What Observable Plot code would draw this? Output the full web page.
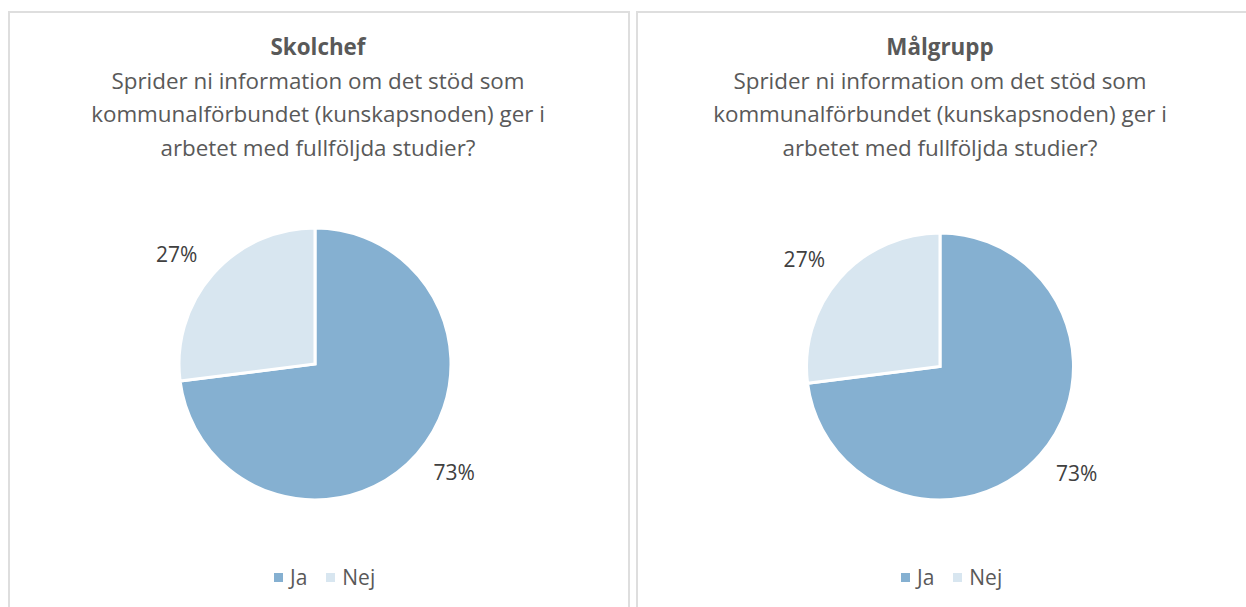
<!DOCTYPE html>
<html><head><meta charset="utf-8">
<script src="https://cdn.jsdelivr.net/npm/d3@7"></script>
<script src="https://cdn.jsdelivr.net/npm/@observablehq/plot@0.6"></script>
<style>
html,body{margin:0;padding:0;background:#fff;overflow:hidden;width:1246px;height:607px}
body{font-family:"Open Sans",Lato,sans-serif;position:relative}
.panel{position:absolute;top:11px;height:640px;border:2px solid #dedede;box-sizing:border-box}
.title{position:absolute;width:640px;text-align:center;color:#595959;font-size:22.4px;line-height:33.7px;top:30px}
.title b{font-weight:700}
.chart{position:absolute;top:180px}
.legend{position:absolute;top:564px;display:flex;align-items:center;color:#595959;font-size:21px;line-height:26px}
.legend .sw{display:inline-block;width:9px;height:9px;margin-right:7px}
.legend .item{display:flex;align-items:center;margin-right:19px}
</style>
</head><body>
<div id="root"></div>
<script>
const categories = ["Ja", "Nej"];
const colors = ["#85b0d1", "#d8e6f0"];
const panelNames = ["Skolchef", "Målgrupp"];
const questionLines = ["Sprider ni information om det stöd som", "kommunalförbundet (kunskapsnoden) ger i", "arbetet med fullföljda studier?"];
const skolchefValues = [73, 27];
const malgruppValues = [73, 27];
const labels = ["73%", "27%"];

// layout (page pixels)
const layout = [
  {panelLeft: 8, panelWidth: 622, cx: 315, cy: 364, r: 136, legendLeft: 274, titleCenter: 318},
  {panelLeft: 636, panelWidth: 640, cx: 939.5, cy: 366.5, r: 133.5, legendLeft: 901, titleCenter: 940}
];
const valuesByPanel = [skolchefValues, malgruppValues];
const root = document.getElementById("root");
const chartW = 600, chartH = 380, chartTop = 180;

function pieMark(data) {
  return (index, scales) => {
    const cx = scales.x(0), cy = scales.y(0), r = scales.x(1) - scales.x(0);
    const color = scales.color ?? (c => colors[categories.indexOf(c)]);
    const arcs = d3.pie().sort(null).value(d => d.value)(data);
    const arc = d3.arc().innerRadius(0).outerRadius(r);
    const g = d3.create("svg:g");
    g.selectAll("path").data(arcs).join("path")
      .attr("transform", `translate(${cx},${cy})`)
      .attr("d", arc)
      .attr("fill", d => color(d.data.category))
      .attr("stroke", "#fff").attr("stroke-width", 3).attr("stroke-linejoin", "miter");
    return g.node();
  };
}

layout.forEach((L, i) => {
  const panel = document.createElement("div");
  panel.className = "panel";
  panel.style.left = L.panelLeft + "px";
  panel.style.width = L.panelWidth + "px";
  root.appendChild(panel);

  const title = document.createElement("div");
  title.className = "title";
  title.style.left = (L.titleCenter - 320) + "px";
  title.innerHTML = `<b>${panelNames[i]}</b><br>` + questionLines.join("<br>");
  root.appendChild(title);

  const vals = valuesByPanel[i];
  const total = d3.sum(vals);
  const data = categories.map((c, j) => ({category: c, value: vals[j], label: labels[j]}));
  let acc = 0;
  const labelData = data.map(d => {
    const mid = (acc + d.value / 2) / total * 2 * Math.PI;
    acc += d.value;
    return {...d, lx: 1.36 * Math.sin(mid), ly: 1.21 * Math.cos(mid)};
  });

  const left = L.cx - chartW / 2;
  const lcx = L.cx - left, lcy = L.cy - chartTop;
  const svg = Plot.plot({
    width: chartW, height: chartH, margin: 0,
    style: {fontFamily: "'Open Sans', sans-serif", fontSize: "21px", background: "transparent", overflow: "visible"},
    x: {domain: [-1, 1], range: [lcx - L.r, lcx + L.r], axis: null},
    y: {domain: [-1, 1], range: [lcy + L.r, lcy - L.r], axis: null},
    color: {domain: categories, range: colors},
    marks: [
      pieMark(data),
      Plot.text(labelData, {x: "lx", y: "ly", text: "label", fill: "#404040", fontSize: 21, textAnchor: "middle"})
    ]
  });
  const wrap = document.createElement("div");
  wrap.className = "chart";
  wrap.style.left = left + "px";
  wrap.appendChild(svg);
  root.appendChild(wrap);

  const legend = document.createElement("div");
  legend.className = "legend";
  legend.style.left = L.legendLeft + "px";
  categories.forEach((c, j) => {
    const item = document.createElement("span");
    item.className = "item";
    item.innerHTML = `<span class="sw" style="background:${colors[j]}"></span><span>${c}</span>`;
    legend.appendChild(item);
  });
  root.appendChild(legend);
});
</script>
</body></html>
